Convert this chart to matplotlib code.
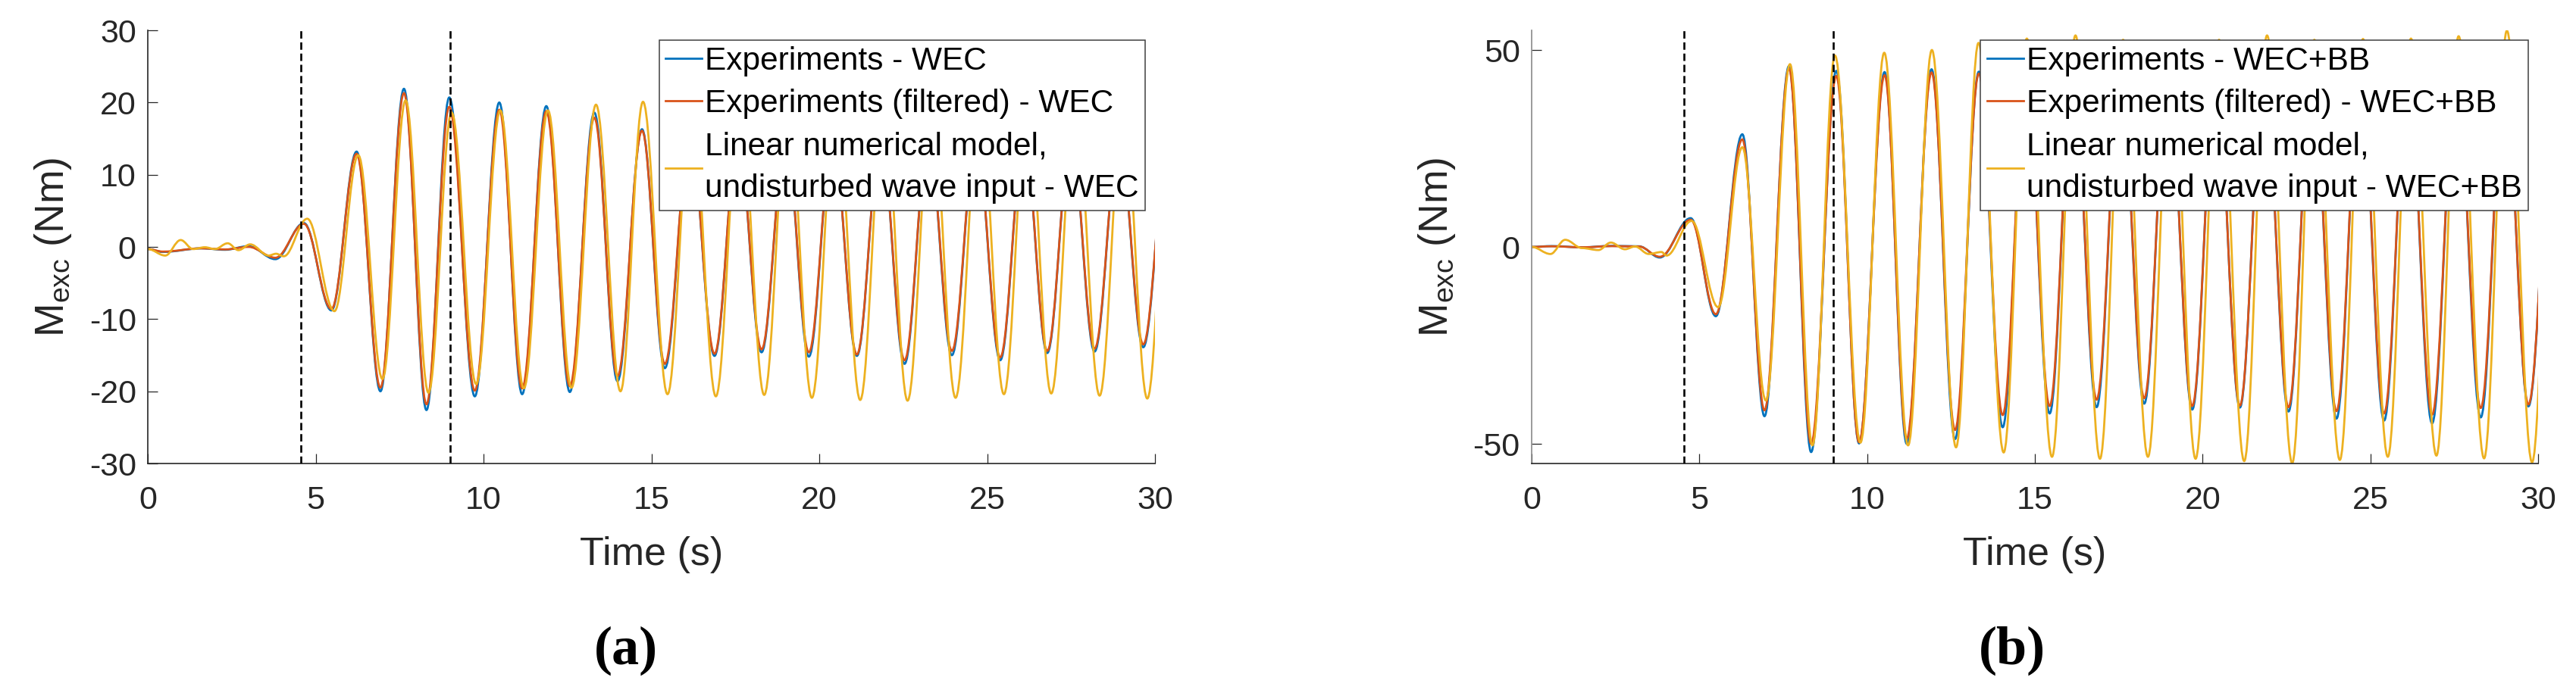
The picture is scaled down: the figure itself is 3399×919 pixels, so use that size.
import numpy as np
import matplotlib
matplotlib.use('Agg')
import matplotlib.pyplot as plt
from matplotlib.path import Path
from matplotlib.patches import PathPatch
from matplotlib.lines import Line2D

plt.rcParams['font.family'] = ['Liberation Sans', 'DejaVu Sans']
plt.rcParams['mathtext.fontset'] = 'custom'
plt.rcParams['mathtext.rm'] = 'Liberation Sans'
plt.rcParams['mathtext.it'] = 'Liberation Sans:italic'
plt.rcParams['mathtext.bf'] = 'Liberation Sans:bold'
plt.rcParams['axes.unicode_minus'] = False

# ---------------- data (extrema) ----------------
# Panel (a): WEC
exp_wec_t = [0.0, 0.45, 1.6, 2.3, 3.0, 3.8, 4.65, 5.47, 6.22, 6.93,
             7.63, 8.30, 8.98, 9.74, 10.47, 11.15, 11.87, 12.57, 13.30, 13.99,
             14.72, 15.40, 16.15, 16.88, 17.58, 18.28, 19.00, 19.69, 20.40, 21.12,
             21.83, 22.54, 23.25, 23.95, 24.67, 25.39, 26.10, 26.79, 27.50, 28.20,
             28.93, 29.65, 30.38]
raw_wec_v = [-0.3, -0.7, -0.2, -0.4, 0.1, -1.7, 3.3, -8.8, 13.2, -20.0,
             21.9, -22.6, 20.7, -20.7, 20.0, -20.4, 19.5, -20.1, 18.6, -18.6,
             16.3, -16.8, 15.5, -15.1, 15.0, -14.6, 15.0, -15.2, 15.0, -15.1,
             15.0, -16.2, 15.0, -15.0, 15.0, -15.7, 15.0, -14.7, 15.0, -14.5,
             15.0, -13.9, 14.0]
filt_wec_v = [-0.3, -0.65, -0.2, -0.35, 0.0, -1.5, 3.2, -8.6, 12.9, -19.5,
              21.3, -21.8, 19.4, -19.9, 19.0, -19.6, 18.8, -19.3, 17.9, -17.9,
              16.1, -16.2, 15.5, -14.8, 15.0, -14.2, 15.0, -14.6, 15.0, -14.9,
              15.0, -15.7, 15.0, -14.4, 15.0, -15.3, 15.0, -14.4, 15.0, -14.1,
              15.0, -13.5, 14.0]
mod_wec_t = [0.0, 0.52, 0.98, 1.35, 1.7, 2.0, 2.38, 2.7, 3.05, 3.6,
             3.82, 4.05, 4.75, 5.56, 6.27, 6.99, 7.68, 8.36, 9.05, 9.78,
             10.50, 11.20, 11.92, 12.62, 13.35, 14.08, 14.75, 15.48, 16.20, 16.92,
             17.64, 18.36, 19.07, 19.78, 20.50, 21.22, 21.93, 22.63, 23.35, 24.06,
             24.78, 25.50, 26.20, 26.91, 27.63, 28.35, 29.06, 29.77, 30.48]
mod_wec_v = [-0.3, -1.2, 0.95, -0.3, -0.05, -0.3, 0.5, -0.45, 0.35, -1.2,
             -0.95, -1.3, 3.9, -8.9, 12.7, -18.3, 20.3, -20.2, 18.6, -19.0,
             18.9, -19.6, 18.9, -19.5, 19.7, -20.0, 20.1, -20.4, 20.0, -20.7,
             20.0, -20.5, 20.0, -20.9, 20.0, -21.2, 20.0, -21.3, 20.0, -20.9,
             20.0, -20.4, 20.0, -20.3, 20.0, -20.6, 20.0, -21.0, 20.0]

# Panel (b): WEC+BB
exp_bb_t = [0.0, 0.6, 1.5, 2.4, 3.2, 3.82, 4.74, 5.49, 6.28, 6.94,
            7.67, 8.33, 9.08, 9.76, 10.52, 11.18, 11.92, 12.62, 13.33, 14.04,
            14.74, 15.44, 16.14, 16.84, 17.55, 18.26, 18.97, 19.69, 20.40, 21.11,
            21.83, 22.56, 23.27, 23.99, 24.70, 25.41, 26.12, 26.84, 27.56, 28.29,
            29.00, 29.71, 30.50]
raw_bb_v = [0.0, 0.2, -0.1, 0.25, 0.15, -2.7, 7.3, -17.6, 28.6, -43.0,
            45.9, -52.1, 44.7, -49.9, 44.4, -50.0, 45.1, -48.8, 44.5, -45.8,
            44.5, -42.3, 44.5, -40.7, 44.5, -39.8, 44.5, -41.3, 44.5, -40.8,
            44.5, -41.8, 44.5, -43.6, 44.5, -44.1, 44.5, -44.8, 44.5, -43.3,
            44.5, -40.5, 44.0]
filt_bb_v = [0.0, 0.15, -0.1, 0.2, 0.1, -2.5, 6.9, -17.1, 27.3, -41.5,
             45.3, -50.0, 43.4, -49.6, 43.6, -48.7, 44.3, -46.5, 44.0, -42.7,
             44.0, -40.4, 44.0, -38.8, 44.0, -38.4, 44.0, -40.4, 44.0, -40.3,
             44.0, -40.7, 44.0, -41.7, 44.0, -42.3, 44.0, -42.6, 44.0, -40.9,
             44.0, -40.0, 44.0]
mod_bb_t = [0.0, 0.56, 1.0, 1.5, 1.99, 2.36, 2.78, 3.08, 3.49, 3.87,
            4.02, 4.77, 5.56, 6.28, 6.98, 7.70, 8.37, 9.04, 9.80, 10.51,
            11.22, 11.93, 12.65, 13.32, 14.07, 14.76, 15.51, 16.21, 16.94, 17.63,
            18.37, 19.07, 19.79, 20.49, 21.24, 21.92, 22.67, 23.33, 24.09, 24.78,
            25.52, 26.21, 26.97, 27.63, 28.39, 29.07, 29.82, 30.53]
mod_bb_v = [0.0, -1.8, 1.8, -0.3, -0.8, 1.1, -0.6, 0.1, -1.8, -1.3,
            -2.2, 6.6, -15.3, 25.3, -39.0, 46.4, -50.4, 48.6, -49.7, 49.3,
            -50.4, 50.0, -50.9, 51.8, -52.2, 52.9, -53.3, 53.7, -53.8, 52.6,
            -53.3, 51.5, -53.8, 52.6, -54.4, 53.7, -54.9, 52.6, -54.1, 52.8,
            -53.3, 52.9, -53.0, 53.5, -53.7, 54.9, -54.7, 54.0]

marker_times = [4.55, 9.0]
x_ticks = [0, 5, 10, 15, 20, 25, 30]
y_ticks_a = [-30, -20, -10, 0, 10, 20, 30]
y_ticks_b = [-50, 0, 50]
labels_a = ['Experiments - WEC', 'Experiments (filtered) - WEC',
            'Linear numerical model,\nundisturbed wave input - WEC']
labels_b = ['Experiments - WEC+BB', 'Experiments (filtered) - WEC+BB',
            'Linear numerical model,\nundisturbed wave input - WEC+BB']

# ---------------- style ----------------
BLUE = '#0072BD'
ORANGE = '#D95319'
YELLOW = '#EDB120'
TXT = '#262626'
LW = 2.0
K = 1 - 2 / np.pi   # Bezier handle fraction: smooth curve with flat tangents at extrema


def wave_patch(t, v, color, z):
    verts = [(t[0], v[0])]
    codes = [Path.MOVETO]
    for i in range(len(t) - 1):
        d = t[i + 1] - t[i]
        verts += [(t[i] + K * d, v[i]), (t[i + 1] - K * d, v[i + 1]), (t[i + 1], v[i + 1])]
        codes += [Path.CURVE4] * 3
    return PathPatch(Path(verts, codes), facecolor='none', edgecolor=color,
                     lw=LW, zorder=z, joinstyle='round')


fig = plt.figure(figsize=(33.99, 9.19), dpi=100)
W, H = 3399.0, 919.0
axA = fig.add_axes([195 / W, (H - 612) / H, 1329 / W, 572 / H])
axB = fig.add_axes([2021 / W, (H - 612) / H, 1328 / W, 572 / H])

panels = [
    (axA, exp_wec_t, raw_wec_v, filt_wec_v, mod_wec_t, mod_wec_v, (-30, 30), y_ticks_a, labels_a),
    (axB, exp_bb_t, raw_bb_v, filt_bb_v, mod_bb_t, mod_bb_v, (-55, 55), y_ticks_b, labels_b),
]

for ax, et, rv, fv, mt, mv, ylim, yt, labs in panels:
    ax.add_patch(wave_patch(et, rv, BLUE, 2.0))
    ax.add_patch(wave_patch(et, fv, ORANGE, 2.1))
    ax.add_patch(wave_patch(mt, mv, YELLOW, 2.2))
    for xm in marker_times:
        ax.axvline(xm, color='k', lw=1.9, dashes=(3.7, 1.9), zorder=3)
    ax.set_xlim(0, 30)
    ax.set_ylim(*ylim)
    ax.set_xticks(x_ticks)
    ax.set_yticks(yt)
    for s in ['top', 'right']:
        ax.spines[s].set_visible(False)
    for s in ['left', 'bottom']:
        ax.spines[s].set_linewidth(1.2)
        ax.spines[s].set_color(TXT)
    ax.tick_params(direction='in', length=9.4, width=0.9, colors=TXT, labelsize=31)
    ax.tick_params(axis='x', pad=21)
    ax.tick_params(axis='y', pad=11)
    ax.set_xlabel('Time (s)', fontsize=37.5, color=TXT, labelpad=19)
    ax.set_ylabel(r'M$_{\mathrm{exc}}$ (Nm)', fontsize=38.5, color=TXT, labelpad=15)
    handles = [Line2D([], [], color=BLUE, lw=LW), Line2D([], [], color=ORANGE, lw=LW),
               Line2D([], [], color=YELLOW, lw=LW)]
    leg = ax.legend(handles, labs, loc='upper right', fontsize=30.5, frameon=True,
                    fancybox=False, framealpha=1, edgecolor='#404040',
                    borderpad=0.2, labelspacing=0.38, handlelength=1.13,
                    handletextpad=0.1, borderaxespad=0.3)
    leg.get_frame().set_linewidth(1.1)
    for txt in leg.get_texts():
        txt.set_linespacing(1.52)
        txt.set_color('black')

axB.spines['left'].set_color('#8a8a8a')

fig.text(826 / W, 1 - 859 / H, '(a)', ha='center', va='center', fontsize=52,
         fontweight='bold', family='Liberation Serif')
fig.text(2655 / W, 1 - 859 / H, '(b)', ha='center', va='center', fontsize=52,
         fontweight='bold', family='Liberation Serif')

fig.savefig('out.png', dpi=100)
